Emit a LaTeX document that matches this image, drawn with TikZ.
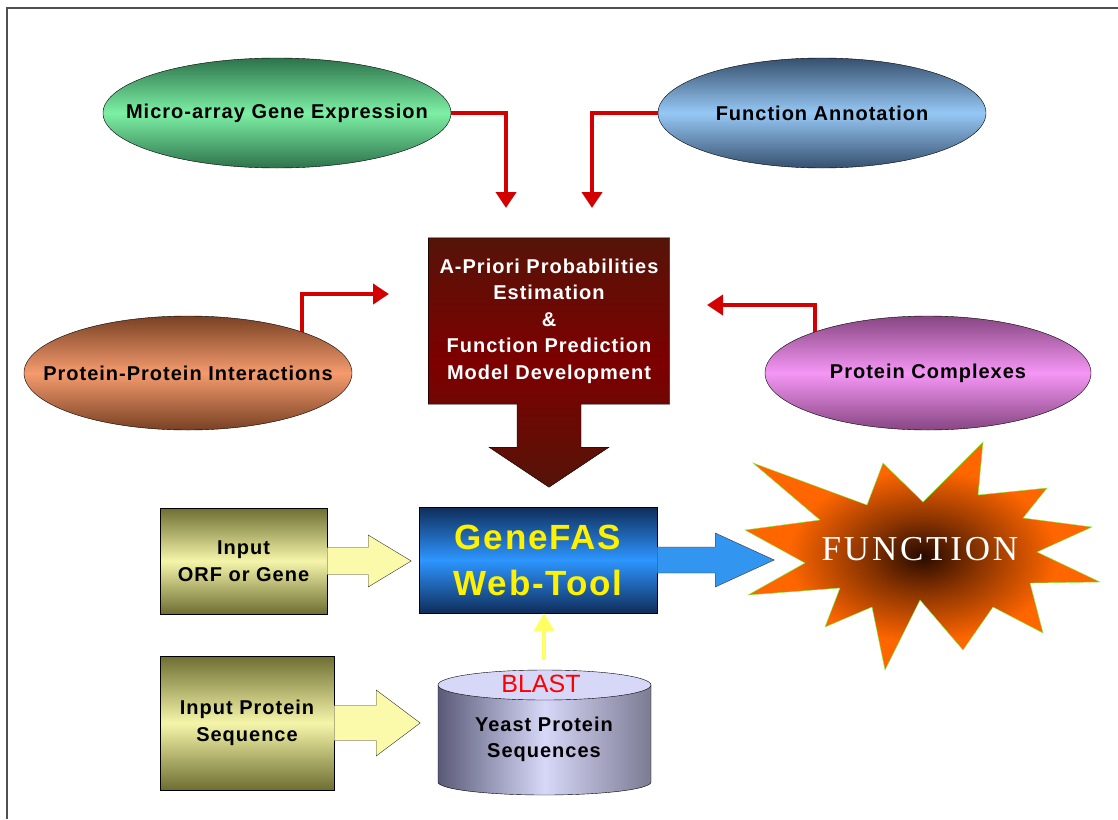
\documentclass[tikz,border=0pt]{standalone}
\usepackage{fontspec}
\setmainfont{Liberation Sans}
\newfontfamily\labfont{Liberation Sans}[LetterSpace=5]
\newfontfamily\funcfont{Liberation Serif}[LetterSpace=8]
\usetikzlibrary{shapes.geometric,arrows.meta,calc,backgrounds}
\definecolor{greendk}{RGB}{45,115,75}
\definecolor{greenlt}{RGB}{125,240,165}
\definecolor{bluegdk}{RGB}{55,80,110}
\definecolor{bluelt}{RGB}{150,200,245}
\definecolor{salmondk}{RGB}{120,65,35}
\definecolor{salmonlt}{RGB}{245,155,110}
\definecolor{pinkdk}{RGB}{135,70,130}
\definecolor{pinklt}{RGB}{245,150,245}
\definecolor{olivedk}{RGB}{110,110,50}
\definecolor{olivelt}{RGB}{245,245,170}
\definecolor{paleyel}{RGB}{250,250,170}
\definecolor{navydk}{RGB}{15,45,90}
\definecolor{toolblue}{RGB}{45,150,255}
\definecolor{arrowblue}{RGB}{50,150,240}
\definecolor{arrred}{RGB}{210,0,0}
\definecolor{maroondk}{RGB}{85,20,8}
\definecolor{maroon}{RGB}{125,0,0}
\definecolor{lavdk}{RGB}{90,90,120}
\definecolor{lavlt}{RGB}{215,215,248}
\definecolor{starorange}{RGB}{255,102,0}
\definecolor{stardk}{RGB}{40,10,0}
\definecolor{starrim}{RGB}{110,255,60}
\definecolor{framegray}{RGB}{80,80,80}
\pgfdeclareradialshading{burst}{\pgfpoint{0bp}{0bp}}{color(0bp)=(stardk); color(8bp)=(stardk!55!starorange); color(19bp)=(starorange); color(50bp)=(starorange)}
\tikzstyle{source} = [ellipse, draw=black, thin, inner sep=0pt, label={[font=\labfont\bfseries\fontsize{20}{24}\selectfont]center:#1}]
\tikzstyle{inbox} = [rectangle, draw=black, thin, align=center, top color=olivedk, bottom color=olivedk, middle color=olivelt, font=\labfont\bfseries\fontsize{20}{27}\selectfont]
\tikzstyle{redarrow} = [line width=4pt, draw=arrred, -{Triangle[width=20pt,length=16pt]}]
\tikzstyle{blockarrow} = [draw=black!80, thin, fill=paleyel]

\begin{document}
\begin{tikzpicture}[x=1pt,y=-1pt]
\useasboundingbox (0,0) rectangle (1118,819);
\draw[framegray, line width=1.5pt] (7,819) -- (7,8) -- (1118,8);

% sources of data
\node (micro) at (277,113) [source={Micro-array Gene Expression}, minimum width=348pt, minimum height=110pt, top color=greendk, bottom color=greendk, middle color=greenlt] {};
\node (annot) at (822,113) [source={Function Annotation}, minimum width=328pt, minimum height=110pt, top color=bluegdk, bottom color=bluegdk, middle color=bluelt] {};
\node (ppi) at (188,373) [source={Protein-Protein Interactions}, minimum width=328pt, minimum height=114pt, top color=salmondk, bottom color=salmondk, middle color=salmonlt] {};
\node (cplx) at (928,373) [source={Protein Complexes}, minimum width=326pt, minimum height=114pt, top color=pinkdk, bottom color=pinkdk, middle color=pinklt] {};

% model box with its big arrow
\node (prob) at (549,321) [rectangle, minimum width=241pt, minimum height=166pt, align=center, text=white, font=\labfont\bfseries\fontsize{20}{26.5}\selectfont] {A-Priori Probabilities\\Estimation\\\&\\Function Prediction\\Model Development};
\begin{scope}[on background layer]
\draw[black, thin, top color=maroondk, bottom color=maroondk, middle color=maroon] (prob.north west) -- (prob.north east) -- (prob.south east) -- ($(prob.south)+(32,0)$) -- ++(0,43) -- ++(28,0) -- ++(-60,40) -- ++(-60,-40) -- ++(28,0) -- ++(0,-43) -- (prob.south west) -- cycle;
\end{scope}

\coordinate (tipa) at (506,208);
\coordinate (tipb) at (592,208);
\coordinate (tipc) at (389,294);
\coordinate (tipd) at (707,305);
\draw[redarrow] (micro.east) -| (tipa);
\draw[redarrow] (annot.west) -| (tipb);
\draw[redarrow] (ppi.20) |- (tipc);
\draw[redarrow] (cplx.160) |- (tipd);

% web tool and inputs
\node (genefas) at (538,560) [rectangle, draw=black, thin, minimum width=238pt, minimum height=106pt, align=center, top color=navydk, bottom color=navydk, middle color=toolblue, text=yellow, font=\labfont\bfseries\fontsize{35}{46}\selectfont] {GeneFAS\\Web-Tool};
\node (orf) at (243.5,561) [inbox, minimum width=167pt, minimum height=106pt] {Input\\ORF or Gene};
\node (pseq) at (247,723) [inbox, minimum width=174pt, minimum height=134pt] {Input Protein\\Sequence};

\draw[blockarrow] ($(orf.east)+(0,-13.5)$) -- ++(41,0) -- ++(0,-12.5) -- ++(43,26) -- ++(-43,26) -- ++(0,-12.5) -- ++(-41,0) -- cycle;
\draw[blockarrow] ($(pseq.east)+(0,-17.5)$) -- ++(42,0) -- ++(0,-15.5) -- ++(44,33) -- ++(-44,33) -- ++(0,-15.5) -- ++(-42,0) -- cycle;
\draw[blockarrow, fill=arrowblue] ($(genefas.east)+(0,-13)$) -- ++(58,0) -- ++(0,-14) -- ++(59,27) -- ++(-59,27) -- ++(0,-14) -- ++(-58,0) -- cycle;

% database
\draw[black, thin, left color=lavdk, right color=lavdk!80, middle color=lavlt] (438,685) -- (438,782) arc[start angle=180, end angle=0, x radius=106.5, y radius=13] -- (651,685) -- cycle;
\draw[black, thin, fill=lavlt] (544.5,685) ellipse [x radius=106.5, y radius=15];
\node (blast) at (541,684) [text=red, font=\fontsize{25}{30}\selectfont] {BLAST};
\node (db) at (544,739) [align=center, font=\labfont\bfseries\fontsize{20}{26}\selectfont] {Yeast Protein\\Sequences};
\coordinate (dbtop) at (544,660);
\draw[line width=4pt, draw={rgb,255:red,255;green,255;blue,100}, -{Triangle[width=20pt,length=18pt]}] (dbtop) -- (dbtop |- genefas.south);

% result
\draw[draw=starrim, thin, shading=burst] (753,463) -- (867,505) -- (883,463) -- (923,502) -- (983,442) -- (978,495) -- (1047,488) -- (1023,518) -- (1092,527) -- (1037,552) -- (1100,582) -- (1030,583) -- (1043,633) -- (993,607) -- (963,650) -- (920,600) -- (885,670) -- (872,607) -- (825,627) -- (840,588) -- (748,595) -- (805,563) -- (745,530) -- (820,520) -- cycle;
\node (func) at (920,549) [text=white, font=\funcfont\fontsize{35}{40}\selectfont] {FUNCTION};
\end{tikzpicture}
\end{document}
